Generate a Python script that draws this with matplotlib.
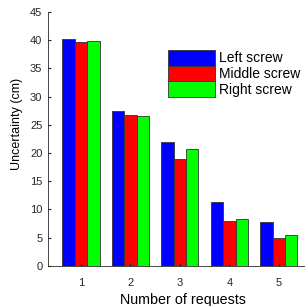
import numpy as np
import matplotlib.pyplot as plt

plt.rcParams['font.family'] = ['Liberation Sans', 'DejaVu Sans']

# Data
requests = [1, 2, 3, 4, 5]
left_screw = [40.2, 27.4, 22.0, 11.3, 7.8]
middle_screw = [39.6, 26.8, 18.9, 8.0, 5.0]
right_screw = [39.9, 26.5, 20.7, 8.4, 5.5]
series_names = ['Left screw', 'Middle screw', 'Right screw']
colors = ['#0000ff', '#ff0000', '#00ff00']

fig = plt.figure(figsize=(3.05, 3.06), dpi=100)
ax = fig.add_axes([0.157, 0.131, 0.843, 0.830])

x = np.array(requests)
w = 0.25
for i, (vals, name, c) in enumerate(zip([left_screw, middle_screw, right_screw], series_names, colors)):
    ax.bar(x + (i - 1) * w, vals, width=w, color=c, edgecolor='#333333', linewidth=0.6, label=name)

ax.set_xlim(0.33, 5.53)
ax.set_ylim(0, 45)
ax.set_xticks(requests)
ax.set_yticks(range(0, 46, 5))
ax.tick_params(direction='in', length=2, labelsize=8, colors='#262626')
ax.tick_params(axis='x', pad=9)
ax.tick_params(axis='y', pad=4)
for s in ['top', 'right']:
    ax.spines[s].set_visible(False)
for s in ['left', 'bottom']:
    ax.spines[s].set_color('#262626')
    ax.spines[s].set_linewidth(0.6)

ax.set_xlabel('Number of requests', fontsize=10.3, labelpad=3)
ax.xaxis.set_label_coords(0.527, -0.105)
ax.set_ylabel('Uncertainty (cm)', fontsize=9)
ax.yaxis.set_label_coords(-0.095, 0.56)

ax.legend(loc='upper left', bbox_to_anchor=(0.467, 0.85), frameon=False, fontsize=10,
          handlelength=3.4, handleheight=1.35, handletextpad=0.3, labelspacing=0.0,
          borderpad=0, borderaxespad=0)

fig.savefig('out.png', dpi=100)
